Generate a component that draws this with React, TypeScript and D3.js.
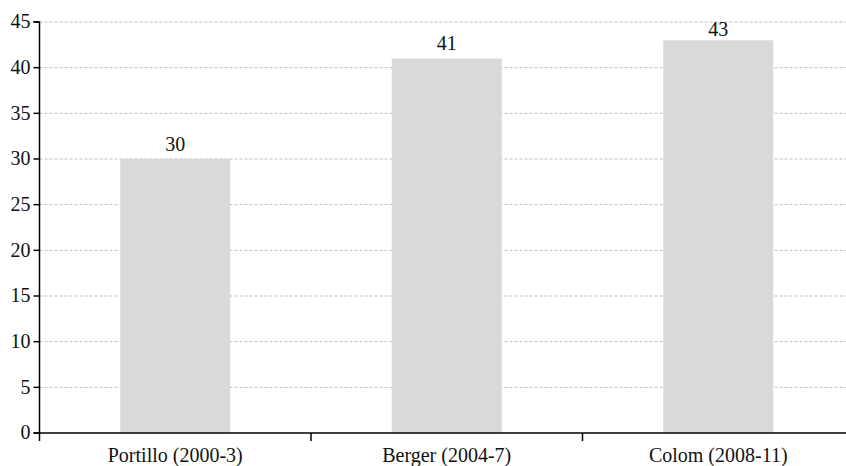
import * as d3 from "d3";
import React from "react";

const categories = ["Portillo (2000-3)", "Berger (2004-7)", "Colom (2008-11)"];
const values = [30, 41, 43];
const yTicks = [0, 5, 10, 15, 20, 25, 30, 35, 40, 45];

const width = 846;
const height = 466;
const font = "Liberation Serif, DejaVu Serif, serif";

export default function App() {
  const left = 39.5;
  const x = d3.scaleBand<string>().domain(categories).range([left, 854]).padding(0);
  const y = d3.scaleLinear().domain([0, 45]).range([433, 22]);
  const barW = x.bandwidth() * 0.405;
  const txt = { fontFamily: font, fontSize: "20px" };

  return (
    <svg
      width={width}
      height={height}
      style={{ position: "absolute", left: 0, top: 0, display: "block", background: "#fff" }}
    >
      {/* grid */}
      {yTicks.filter(t => t > 0).map(t => (
        <line key={"g" + t} x1={left} x2={width} y1={y(t)} y2={y(t)}
          stroke="#bdbdbd" strokeWidth={1} strokeDasharray="3,2" />
      ))}

      {/* bars */}
      {values.map((v, i) => {
        const cx = x(categories[i])! + x.bandwidth() / 2;
        return (
          <g key={categories[i]}>
            <rect x={cx - barW / 2} y={y(v)} width={barW} height={y(0) - y(v)} fill="#d9d9d9" />
            <text x={cx} y={Math.max(y(v) - 8.5, 36)} textAnchor="middle" style={txt} fill="#111">{v}</text>
          </g>
        );
      })}

      {/* y axis */}
      <path d={`M${left - 6},${y(45)}H${left}V${y(0)}H${left - 6}`} fill="none" stroke="#000" strokeWidth={1.5} />
      {yTicks.map(t => (
        <g key={"y" + t} transform={`translate(0,${y(t)})`}>
          <line x1={left - 6} x2={left} stroke="#000" strokeWidth={1.5} />
          <text x={left - 9} dy="0.32em" textAnchor="end" style={txt} fill="#111">{t}</text>
        </g>
      ))}

      {/* x axis */}
      <line x1={left} x2={width} y1={y(0)} y2={y(0)} stroke="#000" strokeWidth={1.5} />
      {categories.map(c => (
        <g key={c}>
          <line x1={x(c)!} x2={x(c)!} y1={y(0)} y2={y(0) + 8} stroke="#000" strokeWidth={1.5} />
          <text x={x(c)! + x.bandwidth() / 2} y={462} textAnchor="middle" style={txt} fill="#111">{c}</text>
        </g>
      ))}
    </svg>
  );
}
